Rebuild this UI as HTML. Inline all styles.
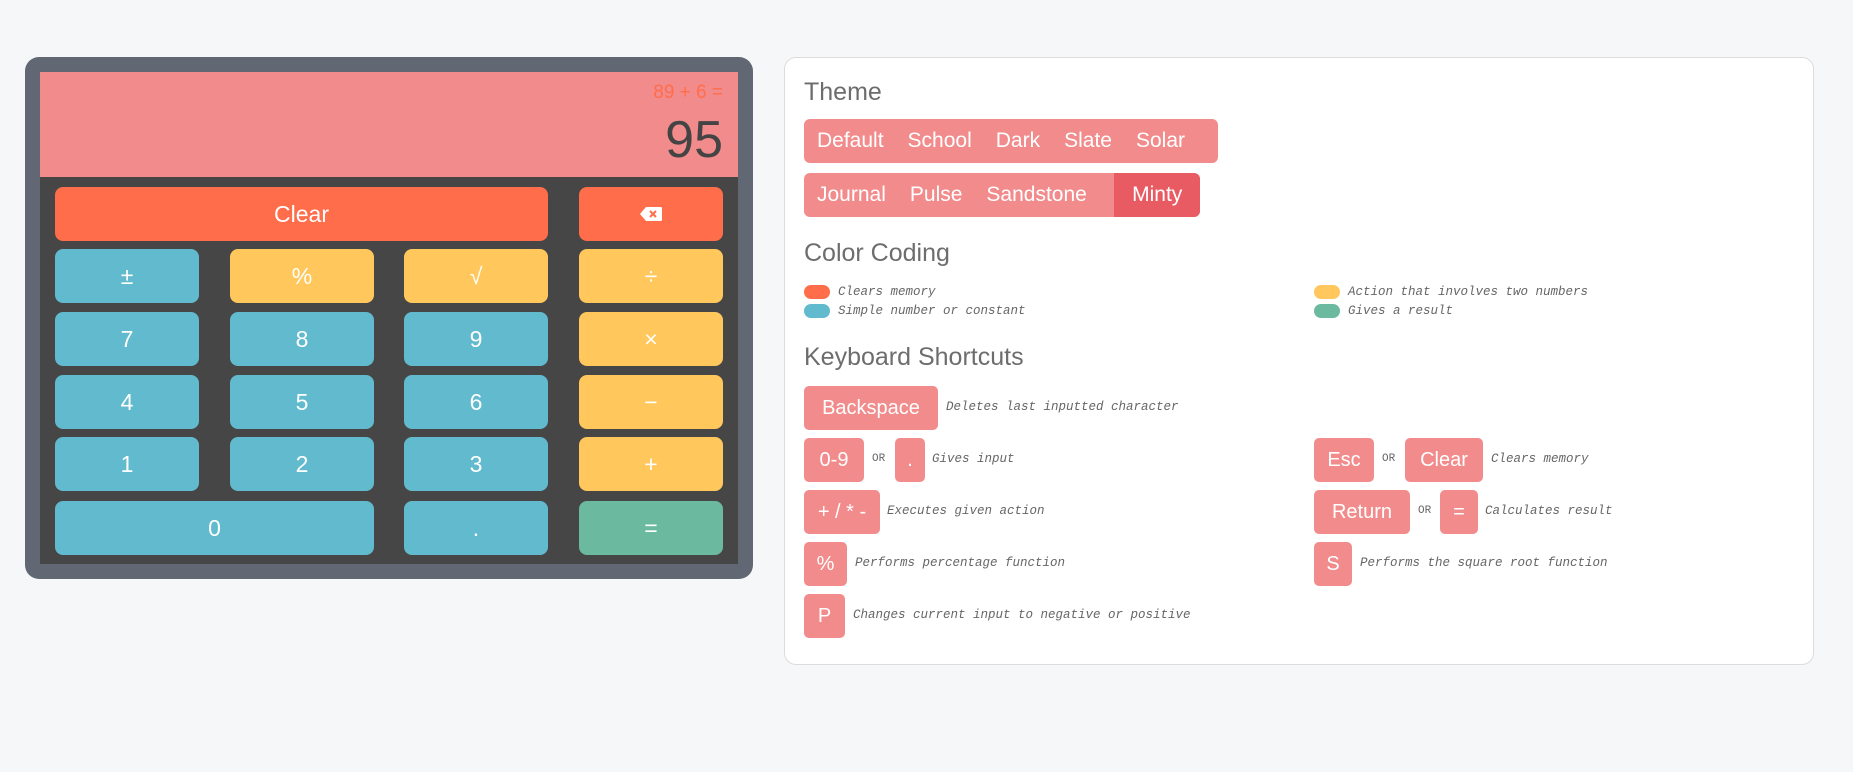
<!DOCTYPE html>
<html><head><meta charset="utf-8"><style>
*{margin:0;padding:0;box-sizing:border-box}
body{width:1853px;height:772px;background:#f6f7f9;font-family:"Liberation Sans",sans-serif;position:relative;overflow:hidden}
.a{position:absolute}
.calc{left:25px;top:57px;width:728px;height:522px;background:#616873;border-radius:14px}
.disp{left:40px;top:72px;width:698px;height:105px;background:#f28b8c}
.pad{left:40px;top:177px;width:698px;height:387px;background:#464646}
.b{position:absolute;height:54px;border-radius:8px;color:#fff;font-size:23px;display:flex;align-items:center;justify-content:center}
.bl{background:#61bace}.yl{background:#ffc75c}.rd{background:#ff6d4a}.gr{background:#6bbaa0}
.panel{left:784px;top:57px;width:1030px;height:608px;background:#fff;border:1px solid #dcdcdc;border-radius:12px}
h2{position:absolute;font-weight:normal;color:#6d6d6d;font-size:25px;left:804px}
.grp{position:absolute;left:804px;height:44px;background:#f28b8c;border-radius:6px;display:flex;overflow:hidden}
.grp span{color:#fff;font-size:21px;padding:0 12px;display:flex;align-items:center}
.grp span:first-child{padding-left:13px}
.sw{position:absolute;width:26px;height:14px;border-radius:7px}
.lt{position:absolute;font-family:"Liberation Mono",monospace;font-style:italic;font-size:12.5px;color:#666;line-height:14px}
.k{position:absolute;height:44px;background:#f28b8c;border-radius:5px;color:#fff;font-size:20px;display:flex;align-items:center;justify-content:center}
.or{position:absolute;font-family:"Liberation Mono",monospace;font-size:11px;color:#666}
</style></head><body>
<div class="a calc"></div>
<div class="a disp"></div>
<div class="a" style="right:1130px;top:82px;color:#ff6d4a;font-size:19px">89 + 6 =</div>
<div class="a" style="right:1130px;top:110px;color:#444;font-size:52px;line-height:60px">95</div>
<div class="a pad"></div>

<div class="b rd" style="left:55px;top:187px;width:493px">Clear</div>
<div class="b rd" style="left:579px;top:187px;width:144px"><svg width="22" height="14" viewBox="0 0 22 14"><path d="M6 0H21Q22 0 22 1V13Q22 14 21 14H6L0 7Z" fill="#fff"/><path d="M10 4L16 10M16 4L10 10" stroke="#ff6d4a" stroke-width="2"/></svg></div>

<div class="b bl" style="left:55px;top:249px;width:144px">±</div>
<div class="b yl" style="left:230px;top:249px;width:144px">%</div>
<div class="b yl" style="left:404px;top:249px;width:144px">√</div>
<div class="b yl" style="left:579px;top:249px;width:144px">÷</div>

<div class="b bl" style="left:55px;top:312px;width:144px">7</div>
<div class="b bl" style="left:230px;top:312px;width:144px">8</div>
<div class="b bl" style="left:404px;top:312px;width:144px">9</div>
<div class="b yl" style="left:579px;top:312px;width:144px">×</div>

<div class="b bl" style="left:55px;top:375px;width:144px">4</div>
<div class="b bl" style="left:230px;top:375px;width:144px">5</div>
<div class="b bl" style="left:404px;top:375px;width:144px">6</div>
<div class="b yl" style="left:579px;top:375px;width:144px">−</div>

<div class="b bl" style="left:55px;top:437px;width:144px">1</div>
<div class="b bl" style="left:230px;top:437px;width:144px">2</div>
<div class="b bl" style="left:404px;top:437px;width:144px">3</div>
<div class="b yl" style="left:579px;top:437px;width:144px">+</div>

<div class="b bl" style="left:55px;top:501px;width:319px">0</div>
<div class="b bl" style="left:404px;top:501px;width:144px">.</div>
<div class="b gr" style="left:579px;top:501px;width:144px">=</div>

<div class="a panel"></div>
<h2 style="top:78px">Theme</h2>
<div class="grp" style="top:119px;width:414px"><span>Default</span><span>School</span><span>Dark</span><span>Slate</span><span>Solar</span></div>
<div class="grp" style="top:173px;width:396px"><span>Journal</span><span>Pulse</span><span style="width:140px">Sandstone</span><span style="background:#e95b63;flex:1;justify-content:center">Minty</span></div>

<h2 style="top:239px">Color Coding</h2>
<div class="sw" style="left:804px;top:285px;background:#ff6d4a"></div><div class="lt" style="left:838px;top:285px">Clears memory</div>
<div class="sw" style="left:804px;top:304px;background:#61bace"></div><div class="lt" style="left:838px;top:304px">Simple number or constant</div>
<div class="sw" style="left:1314px;top:285px;background:#ffc75c"></div><div class="lt" style="left:1348px;top:285px">Action that involves two numbers</div>
<div class="sw" style="left:1314px;top:304px;background:#6bbaa0"></div><div class="lt" style="left:1348px;top:304px">Gives a result</div>

<h2 style="top:343px">Keyboard Shortcuts</h2>
<div class="k" style="left:804px;top:386px;width:134px">Backspace</div><div class="lt" style="left:946px;top:400px">Deletes last inputted character</div>

<div class="k" style="left:804px;top:438px;width:60px">0-9</div><div class="or" style="left:872px;top:453px">OR</div>
<div class="k" style="left:895px;top:438px;width:30px">.</div><div class="lt" style="left:932px;top:452px">Gives input</div>
<div class="k" style="left:1314px;top:438px;width:60px">Esc</div><div class="or" style="left:1382px;top:453px">OR</div>
<div class="k" style="left:1405px;top:438px;width:78px">Clear</div><div class="lt" style="left:1491px;top:452px">Clears memory</div>

<div class="k" style="left:804px;top:490px;width:76px">+ / * -</div><div class="lt" style="left:887px;top:504px">Executes given action</div>
<div class="k" style="left:1314px;top:490px;width:96px">Return</div><div class="or" style="left:1418px;top:505px">OR</div>
<div class="k" style="left:1440px;top:490px;width:38px">=</div><div class="lt" style="left:1485px;top:504px">Calculates result</div>

<div class="k" style="left:804px;top:542px;width:43px">%</div><div class="lt" style="left:855px;top:556px">Performs percentage function</div>
<div class="k" style="left:1314px;top:542px;width:38px">S</div><div class="lt" style="left:1360px;top:556px">Performs the square root function</div>

<div class="k" style="left:804px;top:594px;width:41px">P</div><div class="lt" style="left:853px;top:608px">Changes current input to negative or positive</div>
</body></html>
